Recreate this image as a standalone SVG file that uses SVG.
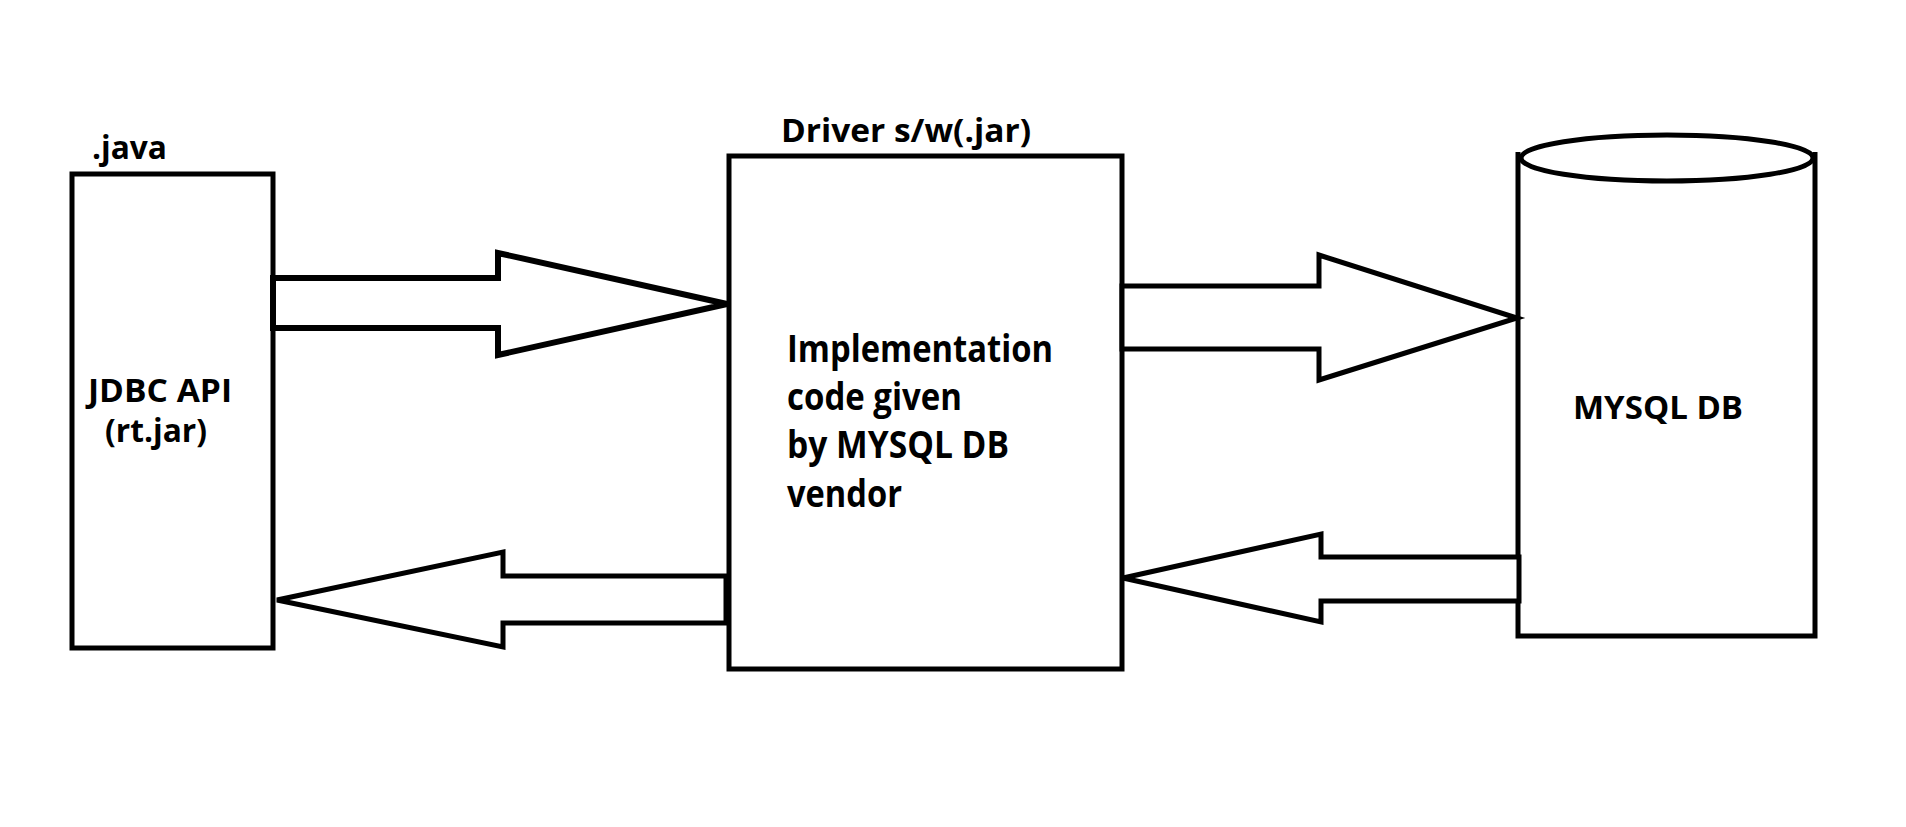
<svg xmlns="http://www.w3.org/2000/svg" width="1906" height="827" viewBox="0 0 1906 827">
<style>
.shape{fill:#ffffff;stroke:#000000;stroke-width:5;stroke-linejoin:miter}
.arrow{fill:#ffffff;stroke:#000000;stroke-width:5;stroke-linejoin:miter}
.lbl{font-family:"Open Sans","Noto Sans","Liberation Sans",sans-serif;font-weight:bold;fill:#000000;font-size:32px}
.big{font-size:37px}
</style>
<rect width="1906" height="827" fill="#ffffff"/>
<g id="jdbc">
<rect class="shape" x="72" y="174" width="201" height="474"/>
<text class="lbl" x="92" y="159" textLength="75" lengthAdjust="spacingAndGlyphs">.java</text>
<text class="lbl" x="88" y="402" textLength="144" lengthAdjust="spacingAndGlyphs">JDBC API</text>
<text class="lbl" x="105" y="442" textLength="102" lengthAdjust="spacingAndGlyphs">(rt.jar)</text>
</g>
<g id="driver">
<rect class="shape" x="729" y="156" width="393" height="513"/>
<text class="lbl" x="781" y="142" textLength="250" lengthAdjust="spacingAndGlyphs">Driver s/w(.jar)</text>
<text class="lbl big" x="787" y="362" textLength="266" lengthAdjust="spacingAndGlyphs">Implementation</text>
<text class="lbl big" x="787" y="410" textLength="175" lengthAdjust="spacingAndGlyphs">code given</text>
<text class="lbl big" x="787" y="458" textLength="222" lengthAdjust="spacingAndGlyphs">by MYSQL DB</text>
<text class="lbl big" x="787" y="507" textLength="115" lengthAdjust="spacingAndGlyphs">vendor</text>
</g>
<g id="mysql">
<path class="shape" d="M1518,152 L1518,636 L1815,636 L1815,152"/>
<ellipse class="shape" cx="1667" cy="158" rx="146" ry="23"/>
<text class="lbl" x="1573" y="419" textLength="170" lengthAdjust="spacingAndGlyphs">MYSQL DB</text>
</g>
<g id="connectors">
<polygon class="arrow" points="273,278 498,278 498,253 727,304 498,355 498,328 273,328" style="stroke-width:6"/>
<polygon class="arrow" points="277,600 503,552 503,576 726,576 726,623 503,623 503,647"/>
<polygon class="arrow" points="1122,286 1319,286 1319,255 1517,318 1319,380 1319,349 1122,349"/>
<polygon class="arrow" points="1123,578 1321,534 1321,557 1519,557 1519,601 1321,601 1321,622"/>
</g>
</svg>
